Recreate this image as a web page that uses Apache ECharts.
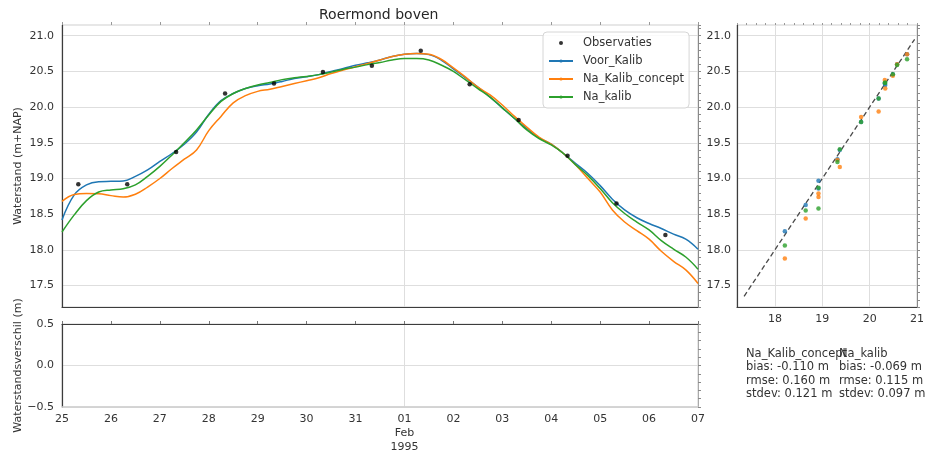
<!DOCTYPE html>
<html><head><meta charset="utf-8">
<script src="https://cdn.jsdelivr.net/npm/echarts@6/dist/echarts.min.js"></script>
<style>html,body{margin:0;padding:0;background:#fff}#c{width:931px;height:454px}</style>
</head><body><div id="c"></div>
<script>
// ---- data (hours since 25 Jan 1995 00:00) ----
const hours = [0,6,12,18,24,30,36,42,48,54,60,66,72,78,84,90,96,102,108,114,120,126,132,138,144,150,156,162,168,174,180,186,192,198,204,210,216,222,228,234,240,246,252,258,264,270,276,282,288,294,300,306,312];
const voorKalib = [18.42,18.77,18.91,18.955,18.96,18.965,19.03,19.12,19.24,19.35,19.48,19.65,19.90,20.09,20.19,20.26,20.30,20.325,20.36,20.40,20.425,20.455,20.50,20.54,20.585,20.62,20.66,20.71,20.74,20.75,20.735,20.66,20.535,20.41,20.28,20.14,19.99,19.84,19.70,19.57,19.48,19.35,19.21,19.07,18.90,18.71,18.56,18.45,18.37,18.30,18.22,18.15,18.01];
const naKalibConcept = [18.68,18.775,18.79,18.785,18.76,18.74,18.78,18.88,19.00,19.14,19.27,19.40,19.67,19.87,20.06,20.16,20.22,20.25,20.29,20.33,20.37,20.41,20.47,20.52,20.565,20.61,20.66,20.71,20.74,20.75,20.74,20.67,20.55,20.42,20.28,20.17,20.03,19.87,19.72,19.58,19.48,19.35,19.19,19.00,18.81,18.56,18.39,18.27,18.15,17.98,17.84,17.72,17.53];
const naKalib = [18.25,18.49,18.69,18.81,18.84,18.855,18.91,19.03,19.17,19.33,19.50,19.68,19.89,20.08,20.19,20.26,20.31,20.345,20.385,20.41,20.43,20.455,20.49,20.53,20.56,20.595,20.625,20.66,20.68,20.68,20.66,20.59,20.50,20.38,20.26,20.14,19.99,19.84,19.68,19.56,19.47,19.35,19.19,19.04,18.86,18.66,18.51,18.39,18.28,18.13,18.01,17.90,17.73];

const obsHours = [8,32,56,80,104,128,152,176,200,224,248,272,296];
const observaties = [18.92,18.92,19.37,20.19,20.33,20.49,20.58,20.79,20.32,19.82,19.32,18.65,18.21];
const voorAtObs = [18.86,18.97,19.40,20.12,20.31,20.46,20.60,20.74,20.33,19.79,19.27,18.63,18.26];
const conceptAtObs = [18.79,18.74,19.16,19.94,20.26,20.44,20.60,20.74,20.38,19.86,19.26,18.44,17.88];
const kalibAtObs = [18.58,18.87,19.41,20.12,20.34,20.46,20.59,20.67,20.34,19.79,19.23,18.55,18.06];

const dayTicks = [0,24,48,72,96,120,144,168,192,216,240,264,288,312];
const dayLabels = ['25','26','27','28','29','30','31','01\nFeb\n1995','02','03','04','05','06','07'];
const feb1Tick = [168];
const yTicks = [17.5,18.0,18.5,19.0,19.5,20.0,20.5,21.0];
const scatterXTicks = [18,19,20,21];
const oneToOne = [17.35,20.95];

const statNames = ['Na_Kalib_concept','Na_kalib'];
const statBias = [-0.110,-0.069];
const statRmse = [0.160,0.115];
const statStdev = [0.121,0.097];

// ---- chart ----
const FONT = 'DejaVu Sans';
const TXT = '#333333';
const DARK = '#3c3c3c';
const LIGHT = '#cfcfcf';
const GRIDC = '#dedede';
const C_BLUE = '#1f77b4', C_ORANGE = '#ff7f0e', C_GREEN = '#2ca02c';

const pairs = (xs, ys) => xs.map((x, i) => [x, ys[i]]);
const fmt1 = v => v.toFixed(1).replace('-', '\u2212');
const lbl = (extra) => Object.assign({color: TXT, fontSize: 11, fontFamily: FONT}, extra);

const chart = echarts.init(document.getElementById('c'), null, {renderer: 'canvas', width: 931, height: 454});

function lineSeries(name, ys, color) {
  return {type: 'line', name, xAxisIndex: 0, yAxisIndex: 0, data: pairs(hours, ys),
    smooth: 0.4, symbol: 'none', showSymbol: false, lineStyle: {color, width: 1.5},
    itemStyle: {color}, z: 3};
}
function scatterSeries(name, xs, ys, color, z) {
  return {type: 'scatter', name, xAxisIndex: 4, yAxisIndex: 4, data: pairs(xs, ys),
    symbolSize: 4.5, itemStyle: {color}, z};
}
function statText(i) {
  return statNames[i] + '\nbias: ' + statBias[i].toFixed(3) + ' m\nrmse: ' + statRmse[i].toFixed(3) +
    ' m\nstdev: ' + statStdev[i].toFixed(3) + ' m';
}

const option = {
  animation: false,
  backgroundColor: '#ffffff',
  textStyle: {fontFamily: FONT},
  title: {text: 'Roermond boven', left: 319, top: 8, padding: 0,
    textStyle: {fontSize: 14, fontWeight: 'normal', color: '#262626', fontFamily: FONT}},
  legend: {
    data: [{name: 'Observaties'}, {name: 'Voor_Kalib'}, {name: 'Na_Kalib_concept'}, {name: 'Na_kalib'}],
    orient: 'vertical', left: 543, top: 32, itemWidth: 24, itemHeight: 4, itemGap: 4,
    padding: [4, 5, 4, 5], backgroundColor: 'rgba(255,255,255,0.85)', borderColor: '#d6d6d6',
    borderWidth: 1, borderRadius: 4, selectedMode: false,
    textStyle: {color: TXT, fontSize: 11.5, fontFamily: FONT, lineHeight: 14, padding: [0, 0, 0, 5]}
  },
  grid: [
    {left: 62, top: 25, width: 636, height: 282, show: true, borderColor: LIGHT, borderWidth: 1, outerBoundsMode: 'none'},
    {left: 62, top: 324, width: 636, height: 83, show: true, borderColor: LIGHT, borderWidth: 1, outerBoundsMode: 'none'},
    {left: 737, top: 25, width: 180, height: 282, show: true, borderColor: LIGHT, borderWidth: 1, outerBoundsMode: 'none'}
  ],
  xAxis: [
    {gridIndex: 0, type: 'value', min: 0, max: 312, position: 'bottom',
      axisLine: {show: true, onZero: false, lineStyle: {color: DARK, width: 1.2}},
      axisTick: {show: false, customValues: feb1Tick}, axisLabel: {show: false},
      splitLine: {show: true, lineStyle: {color: GRIDC, width: 1}}},
    {gridIndex: 0, type: 'value', min: 0, max: 312, position: 'top',
      axisLine: {show: false, onZero: false},
      axisTick: {show: true, length: 3, customValues: dayTicks, lineStyle: {color: '#999'}},
      axisLabel: {show: false}, splitLine: {show: false}},
    {gridIndex: 1, type: 'value', min: 0, max: 312, position: 'bottom',
      axisLine: {show: true, onZero: false, lineStyle: {color: LIGHT, width: 1.5}},
      axisTick: {show: false, customValues: feb1Tick},
      axisLabel: lbl({customValues: dayTicks, margin: 5, lineHeight: 14,
        formatter: v => dayLabels[dayTicks.indexOf(v)]}),
      splitLine: {show: true, lineStyle: {color: GRIDC, width: 1}}},
    {gridIndex: 1, type: 'value', min: 0, max: 312, position: 'top',
      axisLine: {show: true, onZero: false, lineStyle: {color: DARK, width: 1.2}},
      axisTick: {show: true, length: 3, customValues: dayTicks, lineStyle: {color: '#777'}},
      axisLabel: {show: false}, splitLine: {show: false}},
    {gridIndex: 2, type: 'value', min: 17.2, max: 21.0, position: 'bottom',
      axisLine: {show: true, onZero: false, lineStyle: {color: DARK, width: 1.2}},
      axisTick: {show: false, customValues: scatterXTicks},
      axisLabel: lbl({customValues: scatterXTicks, margin: 7, formatter: v => String(v)}),
      splitLine: {show: true, lineStyle: {color: GRIDC, width: 1}}},
    {gridIndex: 2, type: 'value', min: 17.2, max: 21.0, interval: 0.2, position: 'top',
      axisLine: {show: false, onZero: false},
      axisTick: {show: true, length: 2, lineStyle: {color: '#999'}},
      axisLabel: {show: false}, splitLine: {show: false}}
  ],
  yAxis: [
    {gridIndex: 0, type: 'value', min: 17.2, max: 21.15, position: 'left',
      axisLine: {show: true, onZero: false, lineStyle: {color: DARK, width: 1.2}},
      axisTick: {show: false, customValues: yTicks},
      axisLabel: lbl({customValues: yTicks, margin: 8, formatter: fmt1}),
      splitLine: {show: true, lineStyle: {color: GRIDC, width: 1}},
      name: 'Waterstand (m+NAP)', nameLocation: 'middle', nameGap: 38, nameMoveOverlap: false,
      nameTextStyle: {color: TXT, fontSize: 11, fontFamily: FONT}},
    {gridIndex: 0, type: 'value', min: 17.2, max: 21.15, interval: 0.1, position: 'right',
      axisLine: {show: true, onZero: false, lineStyle: {color: '#8a8a8a'}},
      axisTick: {show: true, length: 3, lineStyle: {color: '#8a8a8a'}},
      axisLabel: {show: false}, splitLine: {show: false}},
    {gridIndex: 1, type: 'value', min: -0.5, max: 0.5, interval: 0.5, position: 'left',
      axisLine: {show: true, onZero: false, lineStyle: {color: DARK, width: 1.2}},
      axisTick: {show: false},
      axisLabel: lbl({margin: 8, formatter: fmt1}),
      splitLine: {show: true, lineStyle: {color: GRIDC, width: 1}},
      name: 'Waterstandsverschil (m)', nameLocation: 'middle', nameGap: 38, nameMoveOverlap: false,
      nameTextStyle: {color: TXT, fontSize: 11, fontFamily: FONT}},
    {gridIndex: 1, type: 'value', min: -0.5, max: 0.5, interval: 0.1, position: 'right',
      axisLine: {show: true, onZero: false, lineStyle: {color: '#aaaaaa'}},
      axisTick: {show: true, length: 3, lineStyle: {color: '#8a8a8a'}},
      axisLabel: {show: false}, splitLine: {show: false}},
    {gridIndex: 2, type: 'value', min: 17.2, max: 21.15, position: 'left',
      axisLine: {show: true, onZero: false, lineStyle: {color: DARK, width: 1.2}},
      axisTick: {show: false, customValues: yTicks},
      axisLabel: lbl({customValues: yTicks, margin: 6, formatter: fmt1}),
      splitLine: {show: true, lineStyle: {color: GRIDC, width: 1}}},
    {gridIndex: 2, type: 'value', min: 17.2, max: 21.15, interval: 0.1, position: 'right',
      axisLine: {show: true, onZero: false, lineStyle: {color: '#8a8a8a'}},
      axisTick: {show: true, length: 3, lineStyle: {color: '#8a8a8a'}},
      axisLabel: {show: false}, splitLine: {show: false}}
  ],
  series: [
    lineSeries('Voor_Kalib', voorKalib, C_BLUE),
    lineSeries('Na_Kalib_concept', naKalibConcept, C_ORANGE),
    lineSeries('Na_kalib', naKalib, C_GREEN),
    {type: 'scatter', name: 'Observaties', xAxisIndex: 0, yAxisIndex: 0,
      data: pairs(obsHours, observaties), symbolSize: 4.5, itemStyle: {color: '#000000'}, z: 5},
    {type: 'line', name: '1:1', xAxisIndex: 4, yAxisIndex: 4, data: oneToOne.map(v => [v, v]),
      symbol: 'none', silent: true, lineStyle: {color: '#4a4a4a', width: 1.3, type: [5, 3]}, z: 2},
    scatterSeries('Voor_Kalib', observaties, voorAtObs, C_BLUE, 3),
    scatterSeries('Na_Kalib_concept', observaties, conceptAtObs, C_ORANGE, 4),
    scatterSeries('Na_kalib', observaties, kalibAtObs, C_GREEN, 5)
  ],
  graphic: [
    {type: 'text', left: 746, top: 347, style: {text: statText(0), fill: TXT, font: '11.5px "DejaVu Sans"', lineHeight: 13.5}},
    {type: 'text', left: 839, top: 347, style: {text: statText(1), fill: TXT, font: '11.5px "DejaVu Sans"', lineHeight: 13.5}}
  ]
};
chart.setOption(option);
</script>
</body></html>
